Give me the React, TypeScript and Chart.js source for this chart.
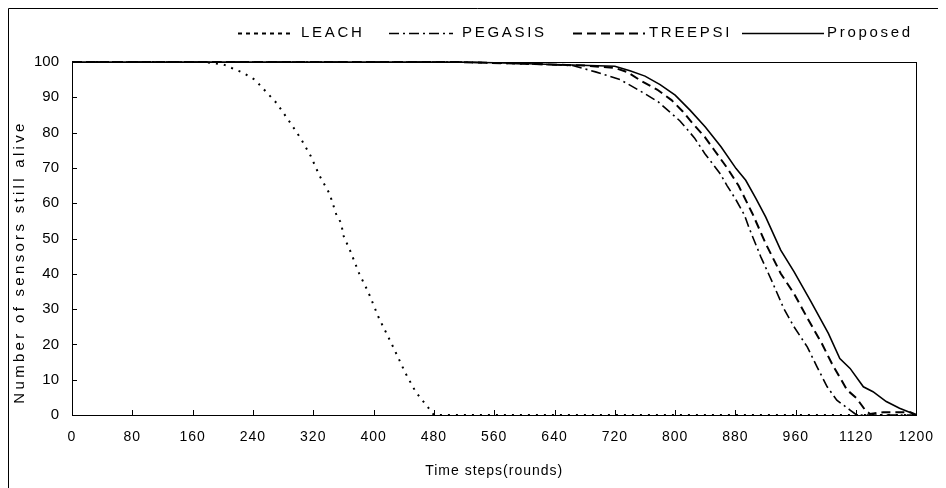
import React, { useEffect, useRef } from 'react';
import { Chart, registerables } from 'chart.js';

Chart.register(...registerables);

// Tick labels of the category-like x axis (equally spaced, as printed in the figure)
const xTickLabels = ['0', '80', '160', '240', '320', '400', '480', '560', '640', '720', '800', '880', '960', '1120', '1200'];

// x positions are given in tick-index units (0 = label "0", 14 = label "1200")
const leachX = [0, 2.19, 2.51, 2.84, 3.03, 3.39, 3.59, 3.79, 3.96, 4.10, 4.27, 4.38, 4.47, 4.49, 4.62, 4.76, 4.91, 5.09, 5.31, 5.53, 5.70, 5.90, 6.0, 14];
const leachY = [100, 100, 99.3, 96.9, 95.0, 88.4, 83.5, 78.4, 73.3, 67.9, 62.7, 56.9, 54.1, 51.2, 46.2, 40.1, 34.9, 27.4, 19.8, 11.8, 6.5, 2.2, 0, 0];

const pegasisX = [0, 6.4, 7.5, 8.3, 8.68, 9.09, 9.5, 9.72, 10.08, 10.32, 10.49, 10.74, 10.86, 11.01, 11.15, 11.23, 11.42, 11.61, 11.8, 11.97, 12.19, 12.35, 12.52, 12.68, 12.9, 13.01, 14];
const pegasisY = [100, 100, 99.5, 99.0, 97.2, 95.0, 91.0, 88.7, 83.3, 78.5, 74.1, 68.5, 65.0, 60.9, 56.6, 52.8, 44.8, 37.7, 30.2, 25.0, 19.3, 13.7, 8.0, 4.2, 1.4, 0, 0];

const treepsiX = [0, 6.4, 7.5, 8.5, 9.0, 9.2, 9.45, 9.7, 9.94, 10.13, 10.28, 10.49, 10.65, 10.87, 11.05, 11.28, 11.5, 11.75, 11.97, 12.21, 12.43, 12.6, 12.85, 13.01, 13.15, 13.23, 13.45, 13.9, 14];
const treepsiY = [100, 100, 99.5, 99.0, 98.3, 97.2, 94.5, 92.2, 89.2, 85.9, 82.8, 78.8, 75.0, 69.8, 65.0, 57.1, 48.6, 40.1, 34.4, 26.9, 20.3, 14.5, 7.1, 4.7, 1.4, 0.3, 0.8, 0.8, 0];

const proposedX = [0, 6.4, 7.0, 8.0, 9.0, 9.25, 9.5, 9.75, 10.0, 10.25, 10.5, 10.76, 11.01, 11.17, 11.34, 11.5, 11.75, 11.97, 12.24, 12.54, 12.73, 12.9, 13.12, 13.28, 13.5, 13.72, 14];
const proposedY = [100, 100, 99.8, 99.3, 98.8, 97.5, 96.0, 93.6, 90.6, 86.3, 81.6, 76.0, 69.8, 66.5, 61.3, 56.1, 46.7, 40.6, 32.5, 23.1, 16.0, 13.2, 8.0, 6.6, 3.8, 1.9, 0];

const seriesNames = ['LEACH', 'PEGASIS', 'TREEPSI', 'Proposed'];
const yTitle = 'Number of sensors still alive';
const xTitle = 'Time steps(rounds)';

const FONT = "'Liberation Sans', Arial, sans-serif";

const pts = (xs: number[], ys: number[]) => xs.map((x, i) => ({ x, y: ys[i] }));

// legend layout (canvas px): sample start, sample end, text start
const legendLayout = [
  { x0: 230, x1: 286, tx: 293 },
  { x0: 381, x1: 445, tx: 454 },
  { x0: 565, x1: 637, tx: 641 },
  { x0: 734, x1: 816, tx: 819 },
];

const framePlugin = {
  id: 'frame',
  beforeDraw(chart: any) {
    const wrap = (scale: any, key: string, spacing: string) => {
      if (!scale || scale['__w_' + key]) return;
      const orig = scale[key];
      scale[key] = function (...args: any[]) {
        const ctx = this.ctx;
        ctx.save();
        ctx.letterSpacing = spacing;
        orig.apply(this, args);
        ctx.restore();
      };
      scale['__w_' + key] = true;
    };
    wrap(chart.scales.x, 'drawTitle', '1px');
    wrap(chart.scales.x, 'drawLabels', '1px');
    const ctx = chart.ctx;
    ctx.save();
    ctx.strokeStyle = '#000';
    ctx.lineWidth = 1;
    ctx.beginPath();
    ctx.moveTo(0.5, chart.height);
    ctx.lineTo(0.5, 0.5);
    ctx.lineTo(chart.width, 0.5);
    ctx.stroke();
    ctx.restore();
  },
  beforeDatasetsDraw(chart: any) {
    const { ctx, chartArea: a, scales } = chart;
    ctx.save();
    ctx.strokeStyle = '#000';
    ctx.lineWidth = 1;
    ctx.beginPath();
    for (let v = 10; v < 100; v += 10) {
      const y = Math.round(scales.y.getPixelForValue(v)) + 0.5;
      ctx.moveTo(a.left, y);
      ctx.lineTo(a.left + 5, y);
    }
    for (let i = 1; i < xTickLabels.length - 1; i++) {
      const x = Math.round(scales.x.getPixelForValue(i)) + 0.5;
      ctx.moveTo(x, a.bottom);
      ctx.lineTo(x, a.bottom - 5);
    }
    ctx.stroke();
    ctx.strokeRect(Math.round(a.left) + 0.5, Math.round(a.top) + 0.5, Math.round(a.right - a.left), Math.round(a.bottom - a.top));
    ctx.restore();
  },
  afterDraw(chart: any) {
    const ctx = chart.ctx;
    // y axis title (rotated)
    ctx.save();
    ctx.translate(12, 254);
    ctx.rotate(-Math.PI / 2);
    ctx.font = `15px ${FONT}`;
    ctx.letterSpacing = '3.3px';
    ctx.fillStyle = '#000';
    ctx.textAlign = 'center';
    ctx.textBaseline = 'middle';
    ctx.fillText(yTitle, 0, 0);
    ctx.restore();

    // legend
    const y = 25;
    ctx.save();
    ctx.font = `15px ${FONT}`;
    ctx.letterSpacing = '2.7px';
    ctx.fillStyle = '#000';
    ctx.strokeStyle = '#000';
    ctx.textBaseline = 'middle';
    ctx.textAlign = 'left';
    chart.data.datasets.forEach((ds: any, i: number) => {
      const l = legendLayout[i];
      ctx.lineWidth = ds.borderWidth;
      ctx.setLineDash(i === 0 ? [4, 4] : ds.borderDash || []);
      ctx.beginPath();
      ctx.moveTo(l.x0, y + 0.5);
      ctx.lineTo(l.x1, y + 0.5);
      ctx.stroke();
      ctx.setLineDash([]);
      ctx.fillText(ds.label, l.tx, y);
    });
    ctx.restore();
  },
};

export default function App() {
  const ref = useRef<HTMLCanvasElement | null>(null);
  useEffect(() => {
    if (!ref.current) return;
    const common = { borderColor: '#000', backgroundColor: '#000', pointRadius: 0, tension: 0, fill: false, clip: false as any };
    const chart = new Chart(ref.current, {
      type: 'line',
      data: {
        datasets: [
          { ...common, label: seriesNames[0], data: pts(leachX, leachY), borderWidth: 2, borderDash: [2, 6] },
          { ...common, label: seriesNames[1], data: pts(pegasisX, pegasisY), borderWidth: 1.6, borderDash: [10, 4, 2, 4] },
          { ...common, label: seriesNames[2], data: pts(treepsiX, treepsiY), borderWidth: 2, borderDash: [9, 5] },
          { ...common, label: seriesNames[3], data: pts(proposedX, proposedY), borderWidth: 1.6 },
        ],
      },
      options: {
        animation: false,
        responsive: false,
        devicePixelRatio: 1,
        layout: { padding: { top: 54, right: 22, left: 0, bottom: 0 } },
        plugins: { legend: { display: false }, tooltip: { enabled: false } },
        scales: {
          x: {
            type: 'linear',
            min: 0,
            max: 14,
            grid: { display: false, drawTicks: false },
            border: { display: false },
            ticks: {
              stepSize: 1,
              autoSkip: false,
              maxRotation: 0,
              padding: 14,
              color: '#000',
              font: { family: FONT, size: 14 },
              callback: (v: any) => xTickLabels[Math.round(Number(v))] ?? '',
            },
            title: {
              display: true,
              text: xTitle,
              color: '#000',
              font: { family: FONT, size: 14 },
              padding: { top: 4, bottom: 8 },
            },
            afterFit: (s: any) => { s.height = 73; },
          },
          y: {
            min: 0,
            max: 100,
            grid: { display: false, drawTicks: false },
            border: { display: false },
            ticks: {
              stepSize: 10,
              padding: 13,
              color: '#000',
              font: { family: FONT, size: 15 },
            },
            title: { display: false },
            afterFit: (s: any) => { s.width = 64; },
          },
        },
      } as any,
      plugins: [framePlugin],
    });
    return () => chart.destroy();
  }, []);
  return (
    <div style={{ width: 938, height: 480 }}>
      <canvas ref={ref} width={938} height={480} style={{ display: 'block', width: 938, height: 480 }} />
    </div>
  );
}
